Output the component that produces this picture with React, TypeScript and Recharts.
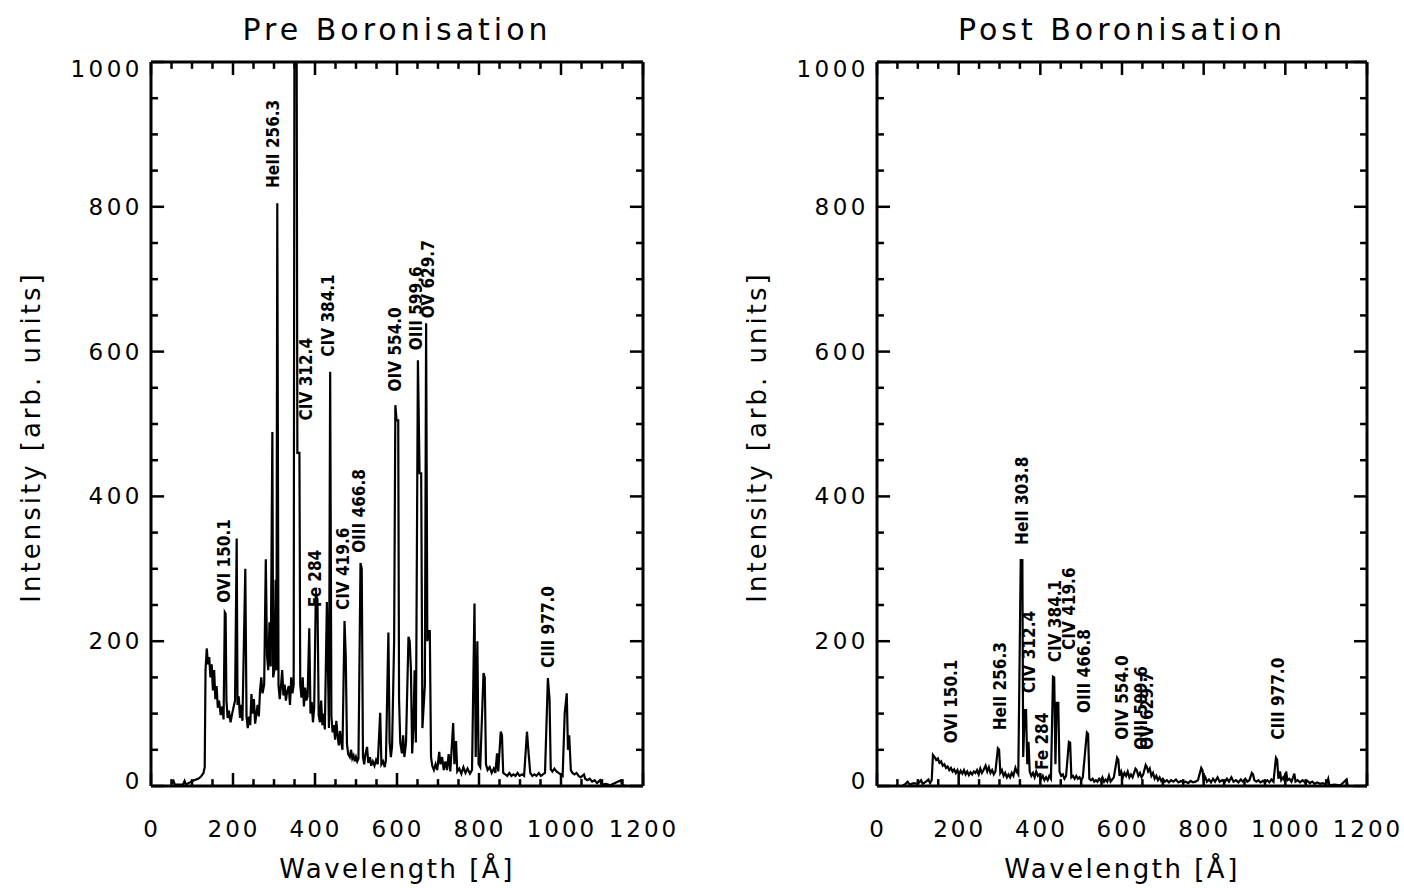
import React from "react";
import { ComposedChart, Line, XAxis, YAxis, ReferenceDot, ReferenceLine } from "recharts";

// ── Axis ticks ────────────────────────────────────────────────────────
const xMajorTicks = [0, 200, 400, 600, 800, 1000, 1200];
const xMinorTicks = [
  0, 50, 100, 150, 200, 250, 300, 350, 400, 450, 500, 550, 600, 650, 700, 750, 800, 850, 900, 950, 1000,
  1050, 1100, 1150, 1200,
];
const yMajorTicks = [0, 200, 400, 600, 800, 1000];
const yMinorTicks = [
  0, 50, 100, 150, 200, 250, 300, 350, 400, 450, 500, 550, 600, 650, 700, 750, 800, 850, 900, 950, 1000,
];

// ── Spectra: [wavelength Å, intensity] ────────────────────────────────
const preSpectrum: [number, number][] = [
  [50, 3], [55, 7], [58, 2], [78, 2], [82, 7], [85, 2], [95, 5], [105, 8], [115, 10], [122, 13], [128, 18], [131, 26],
  [133, 160], [136, 190], [139, 168], [142, 178], [145, 150], [148, 168], [151, 132], [154, 160], [157, 120], [160, 138],
  [163, 108], [166, 118], [170, 98], [174, 110], [177, 92],
  [180, 240], [182, 238], [184, 118], [187, 94], [190, 104], [194, 88], [198, 100], [201, 108], [205, 118],
  [209, 342], [211, 112], [214, 124], [217, 94], [220, 112], [223, 90],
  [230, 300], [233, 96], [236, 80], [239, 96], [242, 84], [245, 127], [248, 100], [251, 120], [254, 86], [257, 100],
  [260, 112], [263, 96], [266, 132], [269, 150], [272, 128], [276, 140],
  [280, 313], [283, 180], [286, 160], [289, 226], [292, 165],
  [296, 489], [298, 150], [301, 160], [304, 285], [306, 160],
  [308, 805], [311, 140], [314, 120], [317, 138], [320, 160], [323, 125], [326, 140], [329, 118], [332, 130], [336, 138],
  [339, 112], [342, 150], [345, 128], [348, 140],
  [350, 1100], [355, 1100], [357, 460], [362, 460], [364, 140], [367, 122], [370, 150], [373, 110], [376, 136], [379, 118],
  [382, 124], [386, 218], [389, 100], [392, 116], [395, 88], [398, 108],
  [402, 264], [406, 258], [409, 98], [412, 88], [415, 118], [418, 84], [421, 100], [424, 78],
  [429, 254], [432, 150], [434, 80],
  [437, 572], [440, 96], [443, 74], [446, 84], [449, 64], [452, 90], [455, 70], [458, 56], [461, 76], [464, 60], [467, 50],
  [472, 228], [475, 180], [478, 58], [481, 44], [485, 40], [488, 50], [491, 38], [494, 42], [497, 34], [500, 40], [503, 34],
  [506, 38], [511, 308], [514, 300], [517, 40], [520, 30], [523, 44],
  [527, 54], [530, 32], [534, 40], [537, 28], [541, 34], [545, 28], [549, 36], [553, 30],
  [559, 101], [562, 30], [566, 34], [570, 26], [573, 36],
  [579, 212], [582, 60], [585, 40], [588, 55],
  [593, 200], [596, 526], [599, 505], [603, 505], [605, 120], [608, 60], [612, 45], [615, 70], [618, 40], [622, 60],
  [628, 206], [631, 200], [634, 160], [637, 45], [640, 80], [643, 160], [646, 60],
  [651, 588], [655, 432], [659, 432], [662, 80],
  [668, 140], [671, 639], [674, 200], [677, 214], [680, 214], [683, 40], [686, 28], [690, 22], [694, 30], [698, 22],
  [703, 47], [706, 30], [710, 40], [714, 22], [718, 34], [722, 22], [726, 44], [730, 20],
  [737, 87], [740, 30], [744, 62], [747, 20], [752, 24], [757, 17], [762, 26], [767, 18], [772, 24], [778, 17], [783, 22],
  [789, 252], [792, 40], [796, 200], [799, 30], [803, 26],
  [811, 156], [814, 150], [817, 30], [821, 22], [826, 26], [831, 18], [836, 24], [840, 18],
  [844, 45], [847, 20], [853, 75], [856, 70], [859, 18], [864, 16], [869, 14], [874, 18], [879, 14], [884, 16], [889, 14],
  [894, 18], [899, 14], [905, 16], [910, 14],
  [917, 75], [921, 45], [925, 18], [930, 14], [935, 16], [940, 14], [946, 18], [951, 14], [956, 16], [961, 18],
  [968, 149], [972, 120], [975, 23], [979, 20], [984, 24], [989, 20], [994, 18], [999, 16], [1004, 14],
  [1009, 100], [1014, 128], [1017, 50], [1020, 70], [1024, 22], [1028, 18], [1033, 16], [1038, 18], [1043, 14], [1048, 12],
  [1056, 16], [1059, 10], [1064, 8], [1070, 10], [1076, 6], [1082, 8], [1088, 4], [1095, 8], [1099, 2], [1110, 3],
  [1120, 1], [1146, 8], [1149, 1], [1160, 0],
];

const postSpectrum: [number, number][] = [
  [62, 0], [70, 3], [75, 6], [80, 2], [90, 4], [100, 3], [108, 8], [112, 3], [120, 6], [126, 9], [130, 4], [134, 8],
  [137, 43], [141, 40], [145, 36], [149, 38], [153, 32], [157, 34], [161, 28], [165, 30], [169, 25], [173, 27], [177, 22],
  [181, 25], [185, 20], [189, 23], [193, 18], [197, 22], [201, 16], [205, 21], [209, 17], [213, 22], [217, 16], [221, 20],
  [225, 15], [229, 19], [233, 16], [237, 20], [241, 18], [245, 22], [249, 16], [253, 24], [257, 18], [261, 22],
  [266, 28], [270, 20], [274, 26], [278, 18], [282, 22], [286, 16], [290, 20],
  [296, 52], [299, 50], [302, 18], [306, 22], [310, 14], [314, 18], [318, 12], [322, 16], [326, 12], [330, 18], [334, 14],
  [339, 25], [342, 20], [346, 16],
  [352, 312], [356, 312], [358, 40], [362, 105], [365, 105], [368, 30], [371, 61], [374, 20], [378, 14], [382, 18],
  [386, 12], [390, 20], [394, 14], [398, 16], [402, 10], [406, 14], [410, 8], [414, 12], [418, 8], [422, 14], [426, 10],
  [431, 151], [434, 150], [437, 30], [440, 115], [444, 115], [447, 20], [451, 14], [455, 16], [459, 10], [463, 14],
  [470, 61], [473, 60], [476, 12], [480, 14], [484, 10], [488, 14], [492, 10], [496, 12], [500, 8], [504, 12],
  [514, 74], [517, 72], [520, 10], [524, 8], [528, 10], [532, 6], [536, 8], [540, 6], [544, 10], [548, 7], [552, 12],
  [556, 6], [560, 9], [564, 6], [568, 14], [572, 6], [576, 9], [580, 12],
  [588, 39], [591, 36], [594, 14], [598, 20], [602, 12], [606, 18], [610, 14], [614, 20], [618, 12], [622, 16], [626, 12],
  [633, 24], [636, 22], [640, 14], [644, 18], [648, 12], [652, 16],
  [658, 29], [661, 26], [664, 20], [668, 24], [672, 14], [676, 18], [680, 10], [684, 14], [688, 8], [692, 12], [696, 7],
  [700, 10], [705, 6], [710, 8], [715, 5], [720, 8], [726, 6], [732, 9], [738, 5], [744, 7], [750, 5], [756, 6], [762, 4],
  [768, 7], [774, 5], [780, 6], [786, 8],
  [794, 25], [797, 22], [800, 8], [804, 12], [808, 6], [813, 9], [818, 5], [823, 10], [828, 6], [834, 12], [839, 6],
  [845, 8], [851, 5], [857, 10], [862, 6], [868, 12], [873, 6], [879, 8], [885, 5], [891, 9], [896, 6], [902, 10],
  [907, 6], [912, 8],
  [918, 18], [921, 16], [924, 8], [929, 6], [934, 8], [939, 5], [945, 7], [950, 5], [956, 8], [961, 5], [966, 9], [971, 6],
  [977, 39], [980, 36], [983, 10], [987, 20], [990, 8], [995, 12], [999, 6], [1002, 20], [1005, 8], [1010, 10], [1015, 6],
  [1019, 12], [1022, 17], [1025, 6], [1030, 8], [1036, 5], [1042, 8], [1048, 5], [1054, 7], [1060, 4], [1066, 6],
  [1072, 3], [1078, 5], [1085, 3], [1092, 4], [1100, 2], [1105, 10], [1108, 1], [1120, 2], [1135, 1], [1150, 9],
  [1153, 0], [1165, 0],
];

// ── Line identifications: [label, wavelength, intensity at label foot] ─
const preLines: [string, number, number][] = [
  ["OVI 150.1", 178, 253],
  ["HeII 256.3", 297, 826],
  ["CIV 312.4", 376, 505],
  ["Fe 284", 400, 247],
  ["CIV 384.1", 430, 593],
  ["CIV 419.6", 468, 243],
  ["OIII 466.8", 505, 322],
  ["OIV 554.0", 595, 545],
  ["OIII 599.6", 646, 602],
  ["OV 629.7", 675, 646],
  ["CIII 977.0", 968, 163],
];

const postLines: [string, number, number][] = [
  ["OVI 150.1", 179, 59],
  ["HeII 256.3", 301, 77],
  ["HeII 303.8", 353, 333],
  ["CIV 312.4", 372, 128],
  ["Fe 284", 404, 22],
  ["CIV 384.1", 434, 171],
  ["CIV 419.6", 470, 188],
  ["OIII 466.8", 505, 101],
  ["OIV 554.0", 598, 64],
  ["OIII 599.6", 645, 50],
  ["OV 629.7", 660, 50],
  ["CIII 977.0", 980, 64],
];

// ── Styling helpers ───────────────────────────────────────────────────
const FONT = "'DejaVu Sans', sans-serif";
const INK = "#000";
const frame = { stroke: INK, strokeWidth: 3 };
// inward tick lengths, in axis units (≈13 px major, ≈7 px minor)
const xTickLen = { major: 18, minor: 9.5 };
const yTickLen = { major: 32, minor: 17 };

function TickText(props: any) {
  const { x, y, payload, side } = props;
  const v = payload.value;
  if (side === "bottom") {
    return (
      <text x={x + 1} y={y + 51} textAnchor="middle" fontFamily={FONT} fontSize={23} letterSpacing={3} fill={INK}>
        {v}
      </text>
    );
  }
  // end labels are nudged inside the frame, as in the original plot
  const nudge = v === 1000 ? 7 : v === 0 ? -5 : 0;
  return (
    <text
      x={x - 8}
      y={y + nudge}
      textAnchor="end"
      dominantBaseline="central"
      fontFamily={FONT}
      fontSize={23}
      letterSpacing={3.5}
      fill={INK}
    >
      {v}
    </text>
  );
}

function YTitle(props: any) {
  const vb = props.viewBox || { x: 0, y: 62, width: 151, height: 724 };
  const cx = vb.x + 31;
  const cy = vb.y + vb.height / 2 + 13;
  return (
    <text
      x={cx}
      y={cy}
      transform={`rotate(-90 ${cx} ${cy})`}
      textAnchor="middle"
      dominantBaseline="central"
      fontFamily={FONT}
      fontSize={26}
      letterSpacing={3}
      fill={INK}
    >
      Intensity [arb. units]
    </text>
  );
}

function XTitle(props: any) {
  const vb = props.viewBox || { x: 151, y: 786, width: 492, height: 60 };
  const cx = vb.x + vb.width / 2;
  return (
    <text x={cx} y={vb.y + 92} textAnchor="middle" fontFamily={FONT} fontSize={26} letterSpacing={2.5} fill={INK}>
      Wavelength [Å]
    </text>
  );
}

function PanelTitle(props: any) {
  const vb = props.viewBox || { x: 151, y: 62, width: 492, height: 1 };
  const cx = vb.x + vb.width / 2;
  return (
    <text x={cx} y={vb.y - 22} textAnchor="middle" fontFamily={FONT} fontSize={30} letterSpacing={4} fill={INK}>
      {props.text}
    </text>
  );
}

function LineTag(props: any) {
  const { cx, cy, text } = props;
  if (cx == null || cy == null) return null;
  return (
    <text
      transform={`translate(${cx},${cy}) rotate(-90) scale(0.85,1)`}
      x={0}
      y={0}
      dominantBaseline="central"
      fontFamily={FONT}
      fontWeight="bold"
      fontSize={18}
      fill={INK}
    >
      {text}
    </text>
  );
}

// ── Panel ─────────────────────────────────────────────────────────────
function SpectrumPanel({
  title,
  spectrum,
  lines,
  width,
  rightMargin,
}: {
  title: string;
  spectrum: [number, number][];
  lines: [string, number, number][];
  width: number;
  rightMargin: number;
}) {
  const data = spectrum.map(([w, v]) => ({ w, v }));
  const xDom: [number, number] = [0, 1200];
  const yDom: [number, number] = [0, 1000];
  const tickLine = { stroke: INK, strokeWidth: 2.5 };

  return (
    <ComposedChart width={width} height={888} data={data} margin={{ top: 62, right: rightMargin, bottom: 42, left: 0 }}>
      <XAxis
        xAxisId="b"
        dataKey="w"
        type="number"
        domain={xDom}
        ticks={xMajorTicks}
        interval={0}
        height={60}
        tickSize={0}
        tickMargin={0}
        tickLine={false}
        axisLine={frame}
        tick={<TickText side="bottom" />}
        label={<XTitle />}
        allowDataOverflow
      />
      <YAxis
        yAxisId="l"
        type="number"
        domain={yDom}
        ticks={yMajorTicks}
        interval={0}
        width={151}
        tickSize={0}
        tickMargin={0}
        tickLine={false}
        axisLine={frame}
        tick={<TickText side="left" />}
        label={<YTitle />}
        allowDataOverflow
      />
      {/* top and right frame */}
      <XAxis xAxisId="t" orientation="top" mirror type="number" domain={xDom} ticks={xMajorTicks} height={1}
        tick={false} tickLine={false} axisLine={frame} label={<PanelTitle text={title} />} />
      <YAxis yAxisId="r" orientation="right" mirror type="number" domain={yDom} ticks={yMajorTicks} width={1}
        tick={false} tickLine={false} axisLine={frame} />

      {/* inward tick marks on all four sides */}
      {xMinorTicks.map((v) => {
        const len = v % 200 === 0 ? xTickLen.major : xTickLen.minor;
        return [
          <ReferenceLine key={`xb${v}`} xAxisId="b" yAxisId="l" segment={[{ x: v, y: 0 }, { x: v, y: len }]} {...tickLine} />,
          <ReferenceLine key={`xt${v}`} xAxisId="b" yAxisId="l" segment={[{ x: v, y: 1000 }, { x: v, y: 1000 - len }]} {...tickLine} />,
        ];
      })}
      {yMinorTicks.map((v) => {
        const len = v % 200 === 0 ? yTickLen.major : yTickLen.minor;
        return [
          <ReferenceLine key={`yl${v}`} xAxisId="b" yAxisId="l" segment={[{ x: 0, y: v }, { x: len, y: v }]} {...tickLine} />,
          <ReferenceLine key={`yr${v}`} xAxisId="b" yAxisId="l" segment={[{ x: 1200, y: v }, { x: 1200 - len, y: v }]} {...tickLine} />,
        ];
      })}

      <Line
        xAxisId="b"
        yAxisId="l"
        type="linear"
        dataKey="v"
        stroke={INK}
        strokeWidth={2.2}
        dot={false}
        activeDot={false}
        isAnimationActive={false}
      />
      {lines.map(([text, w, v], i) => (
        <ReferenceDot key={i} xAxisId="b" yAxisId="l" x={w} y={v} r={1} shape={<LineTag text={text} />} />
      ))}
    </ComposedChart>
  );
}

export default function App() {
  return (
    <div
      style={{
        position: "absolute",
        left: 0,
        top: 0,
        width: 1404,
        height: 888,
        background: "#fff",
        overflow: "hidden",
      }}
    >
      <div style={{ position: "absolute", left: 0, top: 0 }}>
        <SpectrumPanel title="Pre Boronisation" spectrum={preSpectrum} lines={preLines} width={702} rightMargin={59} />
      </div>
      <div style={{ position: "absolute", left: 726, top: 0 }}>
        <SpectrumPanel title="Post Boronisation" spectrum={postSpectrum} lines={postLines} width={678} rightMargin={37} />
      </div>
    </div>
  );
}
